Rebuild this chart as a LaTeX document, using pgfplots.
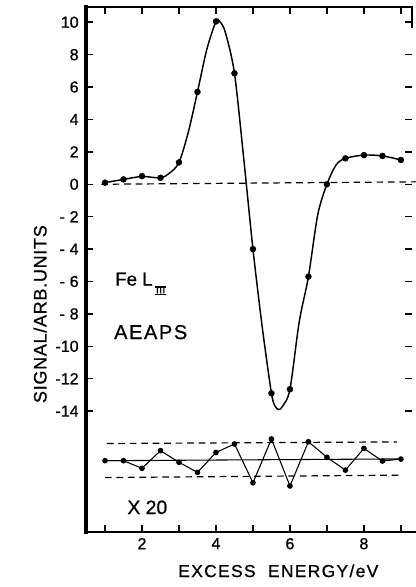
\documentclass[border=0pt]{standalone}
\usepackage{fontspec}
\setmainfont{Liberation Sans}[FakeBold=0.8]
\usepackage{pgfplots}
\pgfplotsset{compat=1.18}

\begin{document}
\begin{tikzpicture}
% fixed page frame
\path[use as bounding box] (-64.5pt,-41.25pt) rectangle (247.5pt,399pt);
\begin{axis}[
  at={(0,0)}, anchor=south west,
  scale only axis, width=244.5pt, height=393.75pt,
  xmin=0.486, xmax=9.30, ymin=-21.46, ymax=10.94,
  clip=false,
  axis line style={draw=none},
  xtick={1,...,9}, xticklabels={,2,,4,,6,,8,},
  ytick={-14,-12,...,10},
  yticklabels={-14,-12,-10,-\hspace{0.3em}8,-\hspace{0.3em}6,-\hspace{0.3em}4,-\hspace{0.3em}2,0,2,4,6,8,10},
  tick align=inside, major tick length=5pt,
  tick style={black, line width=1.1pt},
  xtick pos=both, ytick pos=both,
  tick label style={font=\fontsize{12}{14}\selectfont},
  xticklabel style={yshift=-1pt},
  yticklabel style={xshift=-2pt},
  /pgf/number format/assume math mode=true,
  xlabel={\addfontfeatures{LetterSpace=8}EXCESS\ \ ENERGY/eV},
  ylabel={\addfontfeatures{LetterSpace=4}SIGNAL/ARB.UNITS},
  xlabel style={font=\fontsize{13}{15}\selectfont, at={(rel axis cs:0.59,-0.074)}, anchor=center},
  ylabel style={font=\fontsize{13.5}{15}\selectfont, at={(rel axis cs:-0.141,0.415)}, anchor=center, rotate=0},
]
% frame
\draw[line width=2.4pt, line cap=rect] (rel axis cs:0,0) -- (rel axis cs:0,1);
\draw[line width=2pt, line cap=rect] (rel axis cs:0,0) -- (rel axis cs:1.012,0);
\draw[line width=1.5pt, line cap=rect] (rel axis cs:0,1) -- (rel axis cs:1,1) -- (rel axis cs:1,0.962);

% baseline of the spectrum
\addplot[dash pattern=on 5pt off 3.6pt, line width=0.9pt] coordinates {(0.9,0) (9.4,0.15)};

% smoothed spectrum
\addplot[smooth, line width=1.1pt] coordinates {
(1.0,0.1) (1.5,0.3) (2.0,0.48) (2.5,0.4) (2.75,0.7) (3.0,1.35) (3.25,3.2)
(3.5,5.7) (3.75,8.3) (4.0,10.05) (4.1,10.05) (4.25,9.4) (4.5,6.85) (4.75,1.6)
(5.0,-4.0) (5.25,-8.8) (5.5,-12.9) (5.6,-13.7) (5.7,-13.9) (5.8,-13.7)
(6.0,-12.65) (6.25,-8.5) (6.5,-5.7) (6.75,-1.9) (7.0,0.0) (7.25,1.2)
(7.5,1.6) (8.0,1.8) (8.5,1.75) (9.0,1.5)};

% measured points
\addplot[only marks, mark=*, mark size=2.2pt] coordinates {
(1,0.1) (1.5,0.3) (2,0.5) (2.5,0.4) (3,1.35) (3.5,5.7) (4,10.05) (4.5,6.85)
(5,-4.0) (5.5,-12.9) (6,-12.65) (6.5,-5.7) (7,0.0) (7.5,1.6) (8,1.8) (8.5,1.75) (9,1.5)};

% noise trace (x 20)
\addplot[dash pattern=on 5pt off 3.6pt, line width=0.9pt] coordinates {(1.05,-16.0) (8.9,-15.9)};
\addplot[dash pattern=on 5pt off 3.6pt, line width=0.9pt] coordinates {(1.0,-18.1) (9.0,-17.95)};
\addplot[line width=0.8pt] coordinates {(1.0,-17.06) (9.0,-16.95)};
\addplot[line width=0.8pt, mark=*, mark size=1.7pt] coordinates {
(1,-17.06) (1.5,-17.06) (2,-17.53) (2.5,-16.44) (3,-17.16) (3.5,-17.78)
(4,-16.55) (4.5,-16.03) (5,-18.42) (5.5,-15.72) (6,-18.62) (6.5,-15.89)
(7,-16.85) (7.5,-17.64) (8,-16.30) (8.5,-17.08) (9,-16.96)};

% annotations
\node[anchor=base west, inner sep=0pt] at (axis cs:1.27,-6.25)
  {\fontsize{14}{16}\selectfont Fe L\hspace{2pt}\raisebox{-7pt}{\fontsize{6}{7}\selectfont\bfseries
   \vbox{\hrule height 0.8pt\kern0.3pt\hbox to 8pt{\hfil I\hfil I\hfil I\hfil}\kern0.3pt\hrule height 0.8pt}}};
\node[anchor=base west, inner sep=0pt] at (axis cs:1.24,-9.55)
  {\fontsize{15}{18}\selectfont\addfontfeatures{LetterSpace=8}AEAPS};
\node[anchor=base west, inner sep=0pt] at (axis cs:1.6,-20.35)
  {\fontsize{14.5}{17}\selectfont X 20};
\end{axis}
\end{tikzpicture}
\end{document}
